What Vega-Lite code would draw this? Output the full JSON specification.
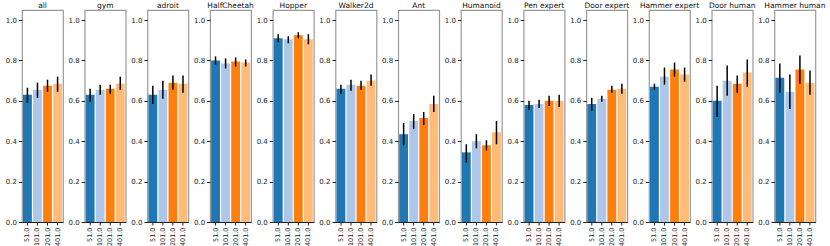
{
  "$schema": "https://vega.github.io/schema/vega-lite/v6.json",
  "padding": {"left": 4, "top": 1, "right": 2, "bottom": 1},
  "background": "white",
  "config": {
    "font": "DejaVu Sans",
    "view": {"stroke": "#999", "strokeWidth": 1.2},
    "axis": {"grid": false, "labelFont": "DejaVu Sans", "labelFontSize": 7, "labelColor": "#222", "tickColor": "#222", "tickSize": 3.5, "labelPadding": 2, "domainColor": "#333"},
    "header": {"labelFont": "DejaVu Sans", "labelFontSize": 7.5, "labelColor": "#111", "labelPadding": 1}
  },
  "data": {"values": [
    {"task":"all","k":"51.0","m":0.63,"lo":0.59,"hi":0.665},
    {"task":"all","k":"101.0","m":0.655,"lo":0.615,"hi":0.69},
    {"task":"all","k":"201.0","m":0.675,"lo":0.645,"hi":0.705},
    {"task":"all","k":"401.0","m":0.685,"lo":0.645,"hi":0.72},
    {"task":"gym","k":"51.0","m":0.63,"lo":0.595,"hi":0.66},
    {"task":"gym","k":"101.0","m":0.655,"lo":0.63,"hi":0.68},
    {"task":"gym","k":"201.0","m":0.66,"lo":0.635,"hi":0.68},
    {"task":"gym","k":"401.0","m":0.685,"lo":0.655,"hi":0.72},
    {"task":"adroit","k":"51.0","m":0.63,"lo":0.585,"hi":0.675},
    {"task":"adroit","k":"101.0","m":0.655,"lo":0.61,"hi":0.70},
    {"task":"adroit","k":"201.0","m":0.69,"lo":0.655,"hi":0.725},
    {"task":"adroit","k":"401.0","m":0.685,"lo":0.64,"hi":0.725},
    {"task":"HalfCheetah","k":"51.0","m":0.80,"lo":0.78,"hi":0.82},
    {"task":"HalfCheetah","k":"101.0","m":0.785,"lo":0.76,"hi":0.81},
    {"task":"HalfCheetah","k":"201.0","m":0.795,"lo":0.77,"hi":0.815},
    {"task":"HalfCheetah","k":"401.0","m":0.79,"lo":0.77,"hi":0.805},
    {"task":"Hopper","k":"51.0","m":0.91,"lo":0.89,"hi":0.93},
    {"task":"Hopper","k":"101.0","m":0.905,"lo":0.885,"hi":0.92},
    {"task":"Hopper","k":"201.0","m":0.925,"lo":0.91,"hi":0.94},
    {"task":"Hopper","k":"401.0","m":0.905,"lo":0.88,"hi":0.93},
    {"task":"Walker2d","k":"51.0","m":0.66,"lo":0.635,"hi":0.68},
    {"task":"Walker2d","k":"101.0","m":0.68,"lo":0.65,"hi":0.705},
    {"task":"Walker2d","k":"201.0","m":0.675,"lo":0.655,"hi":0.70},
    {"task":"Walker2d","k":"401.0","m":0.70,"lo":0.675,"hi":0.73},
    {"task":"Ant","k":"51.0","m":0.435,"lo":0.38,"hi":0.49},
    {"task":"Ant","k":"101.0","m":0.50,"lo":0.46,"hi":0.535},
    {"task":"Ant","k":"201.0","m":0.515,"lo":0.48,"hi":0.545},
    {"task":"Ant","k":"401.0","m":0.585,"lo":0.545,"hi":0.625},
    {"task":"Humanoid","k":"51.0","m":0.345,"lo":0.295,"hi":0.385},
    {"task":"Humanoid","k":"101.0","m":0.40,"lo":0.365,"hi":0.435},
    {"task":"Humanoid","k":"201.0","m":0.38,"lo":0.355,"hi":0.405},
    {"task":"Humanoid","k":"401.0","m":0.445,"lo":0.385,"hi":0.50},
    {"task":"Pen expert","k":"51.0","m":0.58,"lo":0.555,"hi":0.60},
    {"task":"Pen expert","k":"101.0","m":0.585,"lo":0.565,"hi":0.605},
    {"task":"Pen expert","k":"201.0","m":0.60,"lo":0.575,"hi":0.625},
    {"task":"Pen expert","k":"401.0","m":0.60,"lo":0.57,"hi":0.63},
    {"task":"Door expert","k":"51.0","m":0.585,"lo":0.55,"hi":0.615},
    {"task":"Door expert","k":"101.0","m":0.61,"lo":0.595,"hi":0.625},
    {"task":"Door expert","k":"201.0","m":0.655,"lo":0.64,"hi":0.675},
    {"task":"Door expert","k":"401.0","m":0.66,"lo":0.635,"hi":0.685},
    {"task":"Hammer expert","k":"51.0","m":0.67,"lo":0.655,"hi":0.685},
    {"task":"Hammer expert","k":"101.0","m":0.72,"lo":0.68,"hi":0.765},
    {"task":"Hammer expert","k":"201.0","m":0.755,"lo":0.72,"hi":0.79},
    {"task":"Hammer expert","k":"401.0","m":0.73,"lo":0.695,"hi":0.765},
    {"task":"Door human","k":"51.0","m":0.60,"lo":0.52,"hi":0.675},
    {"task":"Door human","k":"101.0","m":0.70,"lo":0.625,"hi":0.775},
    {"task":"Door human","k":"201.0","m":0.685,"lo":0.64,"hi":0.725},
    {"task":"Door human","k":"401.0","m":0.74,"lo":0.67,"hi":0.805},
    {"task":"Hammer human","k":"51.0","m":0.715,"lo":0.64,"hi":0.785},
    {"task":"Hammer human","k":"101.0","m":0.645,"lo":0.56,"hi":0.73},
    {"task":"Hammer human","k":"201.0","m":0.755,"lo":0.685,"hi":0.825},
    {"task":"Hammer human","k":"401.0","m":0.69,"lo":0.63,"hi":0.75}
  ]},
  "facet": {"column": {"field": "task", "type": "nominal", "title": null,
    "sort": ["all","gym","adroit","HalfCheetah","Hopper","Walker2d","Ant","Humanoid","Pen expert","Door expert","Hammer expert","Door human","Hammer human"],
    "header": {"labelOrient": "top"}}},
  "spacing": 21.7,
  "bounds": "flush",
  "resolve": {"axis": {"y": "independent", "x": "independent"}},
  "spec": {
    "width": 41,
    "height": 212,
    "encoding": {
      "x": {"field": "k", "type": "nominal", "sort": ["51.0","101.0","201.0","401.0"], "title": null,
        "scale": {"paddingInner": 0.12, "paddingOuter": 0.1},
        "axis": {"labelAngle": -90, "domainColor": "#222", "labelFontSize": 6.5, "tickSize": 3}}
    },
    "layer": [
      {"mark": {"type": "bar"},
       "encoding": {
         "y": {"field": "m", "type": "quantitative", "title": null,
           "scale": {"domain": [0, 1.05], "nice": false},
           "axis": {"values": [0, 0.2, 0.4, 0.6, 0.8, 1.0], "format": ".1f", "domain": false}},
         "color": {"field": "k", "type": "nominal", "legend": null,
           "scale": {"domain": ["51.0","101.0","201.0","401.0"], "range": ["#1f77b4","#aec7e8","#ff7f0e","#ffbb78"]}}
       }},
      {"mark": {"type": "rule", "color": "black", "strokeWidth": 1.5},
       "encoding": {
         "y": {"field": "lo", "type": "quantitative"},
         "y2": {"field": "hi"}
       }}
    ]
  }
}
